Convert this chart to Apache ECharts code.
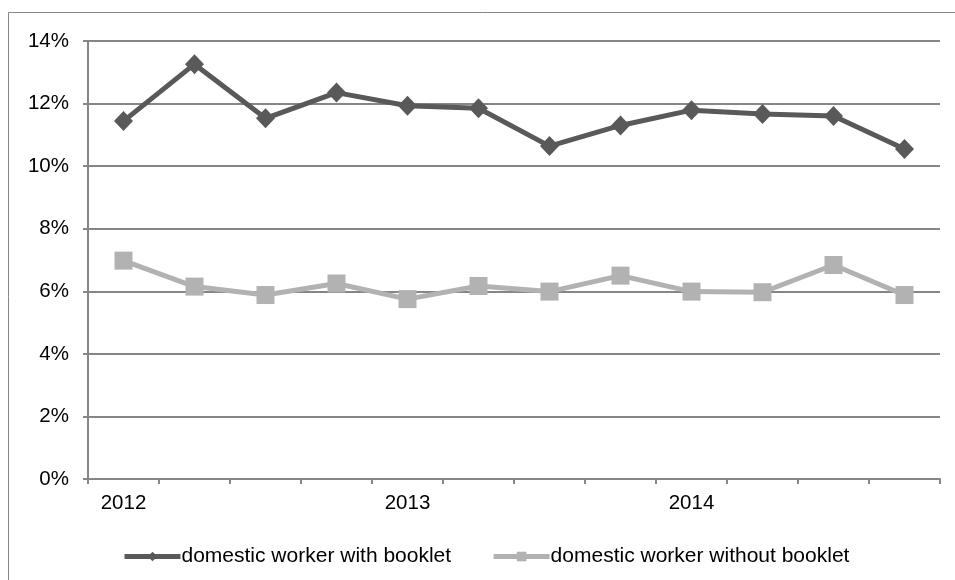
<!DOCTYPE html>
<html>
<head>
<meta charset="utf-8">
<script src="https://cdn.jsdelivr.net/npm/echarts@6/dist/echarts.min.js"></script>
<style>
  html, body { margin: 0; padding: 0; background: #fff; }
  #chart { width: 955px; height: 580px; }
</style>
</head>
<body>
<div id="chart"></div>
<script>
// Quarterly periods; only the first quarter of each year carries a label
const quarters = ['2012', '', '', '', '2013', '', '', '', '2014', '', '', ''];
const withBooklet = [11.44, 13.26, 11.53, 12.35, 11.93, 11.85, 10.64, 11.30, 11.79, 11.67, 11.60, 10.55];
const withoutBooklet = [6.98, 6.15, 5.88, 6.25, 5.75, 6.17, 5.99, 6.50, 5.99, 5.97, 6.84, 5.88];
const seriesNames = ['domestic worker with booklet', 'domestic worker without booklet'];

const chart = echarts.init(document.getElementById('chart'), null, { renderer: 'canvas' });
const font = 'Liberation Sans, Arial, sans-serif';
const axisGrey = '#868686';

chart.setOption({
  animation: false,
  backgroundColor: '#fff',
  graphic: [{
    type: 'rect',
    shape: { x: 8.5, y: 12.5, width: 1000, height: 1000 },
    style: { fill: 'none', stroke: axisGrey, lineWidth: 1 },
    silent: true
  }],
  grid: { left: 88, right: 15, top: 41, bottom: 101, containLabel: false },
  xAxis: {
    type: 'category',
    data: quarters,
    boundaryGap: true,
    axisLine: { lineStyle: { color: axisGrey, width: 2 } },
    axisTick: { show: true, interval: 0, length: 5, lineStyle: { color: axisGrey, width: 2 } },
    axisLabel: { interval: 3, color: '#000', fontFamily: font, fontSize: 20.5, margin: 14 },
    splitLine: { show: false }
  },
  yAxis: {
    type: 'value',
    min: 0,
    max: 14,
    interval: 2,
    axisLine: { show: true, lineStyle: { color: axisGrey, width: 2 } },
    axisTick: { show: true, length: 5, lineStyle: { color: axisGrey, width: 2 } },
    axisLabel: { formatter: '{value}%', color: '#000', fontFamily: font, fontSize: 20.5, margin: 19 },
    splitLine: { show: true, lineStyle: { color: axisGrey, width: 2 } }
  },
  legend: {
    top: 541,
    left: 117,
    itemWidth: 56,
    itemHeight: 12,
    itemGap: 40,
    lineStyle: { width: 5 },
    textStyle: { color: '#000', fontFamily: font, fontSize: 21, padding: [0, 0, 0, -4] },
    data: seriesNames
  },
  series: [
    {
      name: seriesNames[0],
      type: 'line',
      data: withBooklet,
      symbol: 'diamond',
      symbolSize: [19, 20],
      lineStyle: { color: '#595959', width: 5 },
      itemStyle: { color: '#595959' }
    },
    {
      name: seriesNames[1],
      type: 'line',
      data: withoutBooklet,
      symbol: 'rect',
      symbolSize: 18,
      lineStyle: { color: '#b2b2b2', width: 5 },
      itemStyle: { color: '#b2b2b2' }
    }
  ]
});
</script>
</body>
</html>
